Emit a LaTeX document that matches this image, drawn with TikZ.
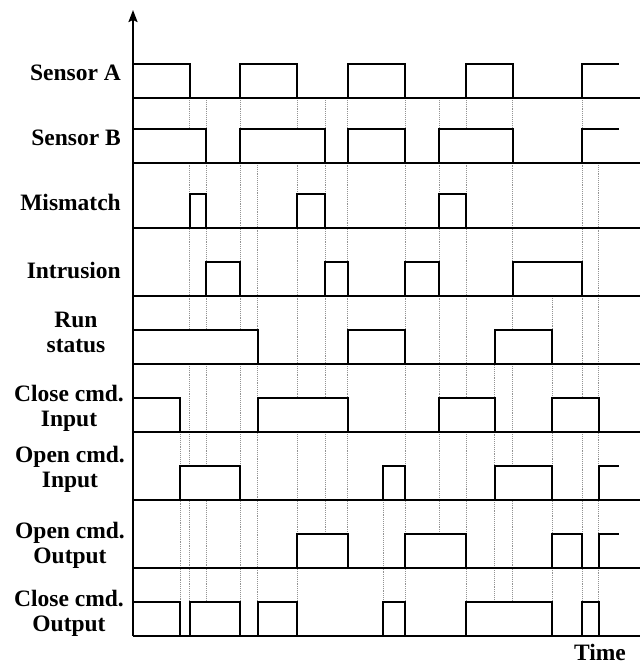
\documentclass[tikz,border=0pt]{standalone}
\usepackage{fontspec}
\setmainfont{Liberation Serif}
\usetikzlibrary{positioning, arrows.meta}

\tikzset{
  sig/.style={line width=1.9pt, black},
  guide/.style={densely dotted, line width=0.9pt, gray!85},
  lbl/.style={font=\bfseries\fontsize{23.5}{25}\selectfont, align=center, inner sep=0pt, text=black}
}
\newcommand{\pulse}[3]{%
  \fill[white] (#1,#3) rectangle (#2,#3-34);
  \draw[sig] (#1,#3) -- (#1,#3-34) -- (#2,#3-34) -- (#2,#3);}
\newcommand{\risetail}[3]{%
  \draw[sig] (#1,#3) -- (#1,#3-34) -- (#2,#3-34);}

\begin{document}
\begin{tikzpicture}[x=1pt, y=-1pt]
                \useasboundingbox (0,0) rectangle (640,664);

                \foreach \x/\t/\b in {180.3/398/636, 189.7/98/636, 206.3/98/636, 240.3/98/636, 257.7/163/636, 297/98/636,
                    325.3/98/534, 347.7/98/568, 383.3/466/636, 405/98/636, 439/98/534, 466.3/98/636, 494.7/329/636,
                    512.7/98/636, 552/296/636, 582/98/636, 598.7/163/636}
                    \draw[guide] (\x,\t) -- (\x,\b);

                \foreach \a/\b in {133/189.7, 240.3/297, 347.7/405, 466.3/512.7} \pulse{\a}{\b}{98};
                \risetail{582}{619}{98}
                \foreach \a/\b in {133/206.3, 240.3/325.3, 347.7/405, 439/512.7} \pulse{\a}{\b}{163};
                \risetail{582}{619}{163}
                \foreach \a/\b in {189.7/206.3, 297/325.3, 439/466.3} \pulse{\a}{\b}{228};
                \foreach \a/\b in {206.3/240.3, 325.3/347.7, 405/439, 512.7/582} \pulse{\a}{\b}{296};
                \foreach \a/\b in {133/257.7, 347.7/405, 494.7/552} \pulse{\a}{\b}{364};
                \foreach \a/\b in {133/180.3, 257.7/347.7, 439/494.7, 552/598.7} \pulse{\a}{\b}{432};
                \foreach \a/\b in {180.3/240.3, 383.3/405, 494.7/552} \pulse{\a}{\b}{500};
                \risetail{598.7}{619}{500}
                \foreach \a/\b in {297/347.7, 405/466.3, 552/582} \pulse{\a}{\b}{568};
                \risetail{598.7}{619}{568}
                \foreach \a/\b in {133/180.3, 189.7/240.3, 257.7/297, 383.3/405, 466.3/552, 582/598.7} \pulse{\a}{\b}{636};

                \foreach \y in {98, 163, 228, 296, 364, 432, 500, 568, 636}
                    \draw[sig] (133,\y) -- (640,\y);
                \draw[sig, -{Stealth[length=12pt, width=9pt, inset=2pt]}] (133,636) -- (133,10);

                \node[lbl, anchor=base east] (sensA) at (121,80) {Sensor A};
                \node[lbl, anchor=base east] (sensB) at (121,145) {Sensor B};
                \node[lbl, anchor=base east] (mism) at (121,210) {Mismatch};
                \node[lbl, anchor=base east] (intr) at (121,278) {Intrusion};
                \node[lbl] (run) at (76,332) {Run\\status};
                \node[lbl] (cci) at (69,408) {Close cmd.\\Input};
                \node[lbl] (oci) at (70,469) {Open cmd.\\Input};
                \node[lbl] (oco) at (70,545) {Open cmd.\\Output};
                \node[lbl] (cco) at (69,613) {Close cmd.\\Output};
                \node[lbl] (time) at (600,652) {Time};
            \end{tikzpicture}
\end{document}
